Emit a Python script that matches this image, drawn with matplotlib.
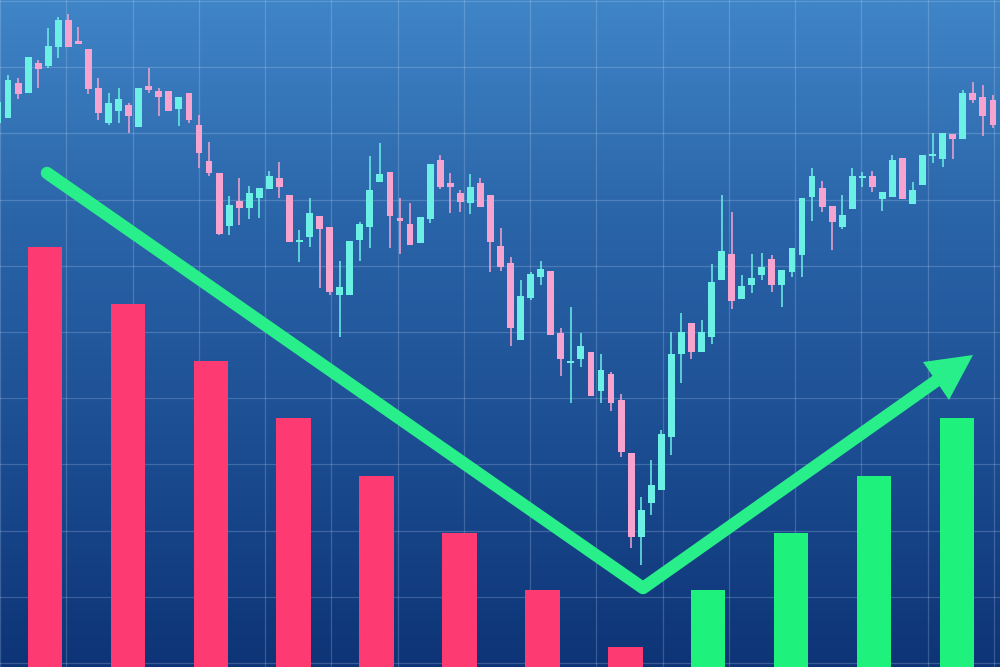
import numpy as np
import matplotlib
matplotlib.use('Agg')
import matplotlib.pyplot as plt
from matplotlib.colors import LinearSegmentedColormap

# candlestick series, 100 sessions (price units)
opens = [544, 549, 584, 574, 604, 601, 620, 647, 626, 618,
         579, 544, 556, 562, 540, 581, 576, 576, 558, 574,
         542, 506, 494, 441, 466, 459, 469, 478, 489, 472,
         425, 430, 451, 440, 372, 372, 427, 440, 485, 495,
         449, 443, 424, 448, 507, 484, 474, 464, 484, 472,
         421, 404, 327, 369, 390, 396, 334, 304, 308, 315,
         276, 293, 267, 214, 130, 164, 177, 230, 313, 344,
         315, 330, 387, 413, 368, 382, 392, 408, 382, 395,
         412, 470, 479, 461, 440, 458, 489, 491, 468, 470,
         509, 463, 482, 511, 508, 533, 528, 574, 570, 567]
highs = [569, 592, 589, 610, 607, 639, 650, 653, 640, 618,
         589, 574, 579, 564, 579, 599, 579, 576, 570, 574,
         552, 525, 494, 471, 489, 481, 479, 496, 505, 472,
         437, 469, 451, 440, 406, 426, 445, 511, 524, 495,
         469, 464, 450, 503, 512, 494, 477, 493, 489, 472,
         439, 410, 387, 395, 406, 396, 339, 360, 334, 315,
         313, 295, 273, 214, 170, 207, 237, 335, 354, 344,
         347, 403, 472, 455, 392, 413, 414, 412, 397, 419,
         469, 499, 486, 461, 472, 499, 495, 496, 475, 512,
         509, 485, 512, 534, 534, 533, 577, 585, 582, 572]
lows = [541, 549, 568, 574, 579, 599, 609, 620, 623, 573,
        547, 542, 544, 534, 540, 574, 551, 556, 541, 544,
        499, 491, 432, 432, 442, 448, 449, 478, 469, 425,
        405, 420, 379, 372, 330, 372, 406, 419, 485, 419,
        413, 422, 424, 444, 478, 454, 455, 453, 460, 395,
        396, 321, 327, 367, 382, 332, 291, 264, 300, 271,
        264, 256, 210, 119, 102, 152, 177, 212, 284, 308,
        315, 323, 387, 358, 368, 374, 387, 375, 360, 390,
        390, 446, 455, 417, 438, 458, 480, 475, 456, 470,
        468, 463, 482, 504, 500, 508, 528, 564, 531, 539]
closes = [565, 587, 573, 610, 598, 621, 647, 620, 623, 578,
          554, 564, 568, 551, 579, 577, 570, 556, 570, 547,
          514, 494, 433, 462, 459, 474, 479, 491, 480, 425,
          426, 454, 438, 375, 380, 426, 443, 477, 493, 451,
          446, 422, 450, 503, 480, 480, 465, 480, 460, 425,
          400, 339, 371, 393, 398, 332, 308, 306, 321, 271,
          297, 264, 215, 130, 157, 182, 233, 313, 335, 315,
          335, 385, 416, 366, 381, 389, 400, 382, 397, 419,
          469, 491, 460, 445, 452, 491, 491, 480, 475, 507,
          468, 477, 512, 513, 534, 528, 574, 567, 551, 542]

# volume-style bars below
bar_values = [420, 363, 306, 249, 191, 134, 77, 20, 77, 134, 191, 249]
bar_down = [True] * 8 + [False] * 4

# trend arrow (down then up)
arrow_x = [47, 643, 936]
arrow_y = [494, 79, 286]
head_x = [973, 923, 949]
head_y = [312, 305, 267]

up_col = '#6cf0e6'
down_col = '#f6a3d0'
red = '#fd3a72'
green = '#1ef27c'

fig = plt.figure(figsize=(10, 6.67), dpi=100)

# background with gradient and grid
ax = fig.add_axes([0, 0, 1, 1])
cmap = LinearSegmentedColormap.from_list('bg', ['#0d3476', '#1c4d92', '#2a64a8', '#3f85c7'])
grad = np.linspace(0, 1, 256).reshape(-1, 1)
ax.imshow(grad, extent=(0, 1000, 0, 667), origin='lower', cmap=cmap, aspect='auto')
ax.set_xlim(0, 1000)
ax.set_ylim(0, 667)
ax.set_xticks(np.arange(0, 1001, 66.25))
ax.set_yticks(4 + np.arange(11) * 66.2)
ax.grid(True, color='#cfe3ff', alpha=0.22, lw=0.9)
ax.tick_params(length=0, labelbottom=False, labelleft=False)
for s in ax.spines.values():
    s.set_visible(False)

# candles
axc = fig.add_axes([0, 0, 1, 1])
axc.patch.set_alpha(0)
days = np.arange(len(opens))
o = np.array(opens)
c = np.array(closes)
up = c >= o
cols = [up_col if u else down_col for u in up]
axc.vlines(days, lows, highs, colors=cols, lw=1.1)
body = np.maximum(np.abs(c - o), 2)
axc.bar(days, body, bottom=np.minimum(o, c), width=0.68, color=cols, lw=0)
axc.set_xlim(0.2, 99.7)
axc.set_ylim(0, 667)
axc.axis('off')

# bars
axb = fig.add_axes([0, 0, 1, 1])
axb.patch.set_alpha(0)
pos = np.arange(len(bar_values))
axb.bar(pos, bar_values, width=0.416, color=[red if d else green for d in bar_down], lw=0)
axb.set_xlim(-0.543, 11.52)
axb.set_ylim(0, 667)
axb.axis('off')

# arrow
axa = fig.add_axes([0, 0, 1, 1])
axa.patch.set_alpha(0)
axa.plot(arrow_x, arrow_y, color='#28ef8a', lw=9, solid_capstyle='round', solid_joinstyle='round')
axa.fill(head_x, head_y, color='#28ef8a', lw=0)
axa.set_xlim(0, 1000)
axa.set_ylim(0, 667)
axa.axis('off')

fig.savefig('out.png', dpi=100)
